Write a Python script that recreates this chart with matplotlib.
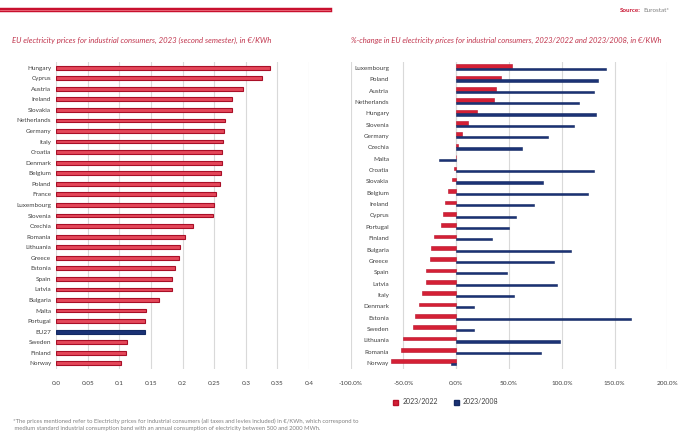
import matplotlib.pyplot as plt
from matplotlib.lines import Line2D
from matplotlib.patches import Patch

plt.rcParams['font.family'] = ['Lato', 'DejaVu Sans']

# left chart: prices 2023 S2, EUR/KWh
countries = ['Hungary', 'Cyprus', 'Austria', 'Ireland', 'Slovakia', 'Netherlands', 'Germany',
             'Italy', 'Croatia', 'Denmark', 'Belgium', 'Poland', 'France', 'Luxembourg',
             'Slovenia', 'Czechia', 'Romania', 'Lithuania', 'Greece', 'Estonia', 'Spain',
             'Latvia', 'Bulgaria', 'Malta', 'Portugal', 'EU27', 'Sweden', 'Finland', 'Norway']
prices = [0.339, 0.325, 0.296, 0.279, 0.279, 0.267, 0.266, 0.264, 0.263, 0.262, 0.261, 0.260,
          0.253, 0.250, 0.249, 0.217, 0.204, 0.196, 0.194, 0.188, 0.183, 0.183, 0.163, 0.142,
          0.141, 0.140, 0.112, 0.110, 0.102]

# right chart: % change
countries2 = ['Luxembourg', 'Poland', 'Austria', 'Netherlands', 'Hungary', 'Slovenia', 'Germany',
              'Czechia', 'Malta', 'Croatia', 'Slovakia', 'Belgium', 'Ireland', 'Cyprus',
              'Portugal', 'Finland', 'Bulgaria', 'Greece', 'Spain', 'Latvia', 'Italy',
              'Denmark', 'Estonia', 'Sweden', 'Lithuania', 'Romania', 'Norway']
chg_2022 = [52.8, 42.1, 38.0, 36.1, 19.3, 11.1, 5.7, 1.3, 0.0, -2.5, -3.8, -8.2, -10.4, -12.7,
            -14.6, -20.9, -23.7, -25.3, -28.8, -29.1, -32.3, -35.4, -38.9, -40.8, -50.9,
            -51.9, -61.4]
chg_2008 = [141.8, 134.5, 130.7, 116.8, 132.9, 111.4, 87.0, 62.7, -16.5, 131.0, 82.3, 125.3,
            74.1, 57.0, 49.7, 33.5, 109.2, 93.0, 48.1, 95.6, 55.1, 17.1, 165.2, 16.8, 98.1,
            80.7, -5.1]

red = '#d42035'
red_light = '#e4485a'
navy = '#1b3275'
title_col = '#c1364e'
grid_col = '#d9d9d9'
lab_col = '#404040'

W, H = 700, 446
fig = plt.figure(figsize=(7, 4.46), dpi=100)

def box(x0, y0, x1, y1):
    return [x0 / W, 1 - y1 / H, (x1 - x0) / W, (y1 - y0) / H]

# left panel
ax1 = fig.add_axes(box(56, 62.4, 309, 368.6))
y1 = list(range(len(countries)))
cols = [navy if c == 'EU27' else red_light for c in countries]
edges = ['#142a63' if c == 'EU27' else '#a90f27' for c in countries]
ax1.barh(y1, prices, height=0.36, color=cols, edgecolor=edges, linewidth=0.8, zorder=3)
ax1.set_xlim(0, 0.4)
ax1.set_ylim(len(countries) - 0.5, -0.5)
ax1.set_xticks([0, 0.05, 0.1, 0.15, 0.2, 0.25, 0.3, 0.35, 0.4])
ax1.set_xticklabels(['0.0', '0.05', '0.1', '0.15', '0.2', '0.25', '0.3', '0.35', '0.4'])
ax1.set_yticks(y1)
ax1.set_yticklabels(countries)
ax1.grid(axis='x', color=grid_col, linewidth=0.8, zorder=0)
ax1.tick_params(length=0, labelsize=4.6, labelcolor=lab_col)
ax1.tick_params(axis='y', pad=3.5)
ax1.tick_params(axis='x', pad=9)
for s in ax1.spines.values():
    s.set_visible(False)

# right panel
ax2 = fig.add_axes(box(350.7, 62.4, 667.3, 368.6))
y2 = list(range(len(countries2)))
ax2.barh([v - 0.16 for v in y2], chg_2022, height=0.32, color=red, edgecolor='#b8102a',
         linewidth=0.4, zorder=3)
ax2.barh([v + 0.1 for v in y2], chg_2008, height=0.2, color=navy, edgecolor='#142a63',
         linewidth=0.4, zorder=3)
ax2.set_xlim(-100, 200)
ax2.set_ylim(len(countries2) - 0.5, -0.5)
ax2.set_xticks([-100, -50, 0, 50, 100, 150, 200])
ax2.set_xticklabels(['-100.0%', '-50.0%', '0.0%', '50.0%', '100.0%', '150.0%', '200.0%'])
ax2.set_yticks(y2)
ax2.set_yticklabels(countries2)
ax2.grid(axis='x', color=grid_col, linewidth=0.8, zorder=0)
ax2.axvline(0, color='#bfbfbf', linewidth=0.8, zorder=1)
ax2.tick_params(length=0, labelsize=4.6, labelcolor=lab_col)
ax2.tick_params(axis='y', pad=-27.6)
ax2.tick_params(axis='x', pad=9)
for s in ax2.spines.values():
    s.set_visible(False)

# header line
fig.add_artist(Line2D([0, 330 / W], [1 - 10 / H] * 2, color='#c8102e', linewidth=3.2))
fig.add_artist(Line2D([0, 330 / W], [1 - 10 / H] * 2, color='#ee7080', linewidth=0.6))

fig.text(620 / W, 1 - 10 / H, 'Source:', color='#c8102e', fontsize=4.5, fontweight='bold',
         va='center', ha='left')
fig.text(643 / W, 1 - 10 / H, 'Eurostat*', color='#808080', fontsize=4.5, va='center', ha='left')

fig.text(12 / W, 1 - 40 / H,
         'EU electricity prices for industrial consumers, 2023 (second semester), in €/KWh',
         color=title_col, fontsize=5.6, style='italic', va='center', ha='left')
fig.text(351 / W, 1 - 40 / H,
         '%-change in EU electricity prices for industrial consumers, 2023/2022 and 2023/2008, in €/KWh',
         color=title_col, fontsize=5.5, style='italic', va='center', ha='left')

handles = [Patch(facecolor=red, edgecolor='#b8102a', label='2023/2022'),
           Patch(facecolor=navy, edgecolor='#142a63', label='2023/2008')]
fig.legend(handles=handles, loc='center', bbox_to_anchor=(446 / W, 1 - 402 / H), ncol=2,
           frameon=False, fontsize=5, handlelength=0.7, handleheight=0.7, columnspacing=2.3,
           handletextpad=0.6, labelcolor=lab_col)

fig.text(13 / W, 1 - 418 / H,
         '*The prices mentioned refer to Electricity prices for industrial consumers (all taxes and levies included) in €/KWh, which correspond to\n'
         ' medium standard industrial consumption band with an annual consumption of electricity between 500 and 2000 MWh.',
         color='#808080', fontsize=4.2, va='top', ha='left', linespacing=1.5)

fig.savefig('out.png', dpi=100)
